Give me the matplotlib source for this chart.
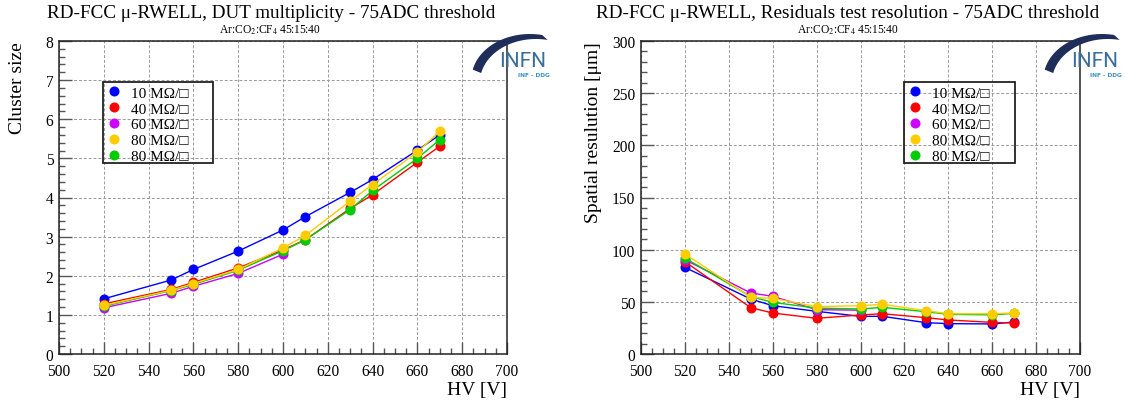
import numpy as np
import matplotlib.pyplot as plt
from matplotlib.patches import Polygon, Rectangle
from matplotlib.ticker import MultipleLocator

plt.rcParams['font.family'] = ['Liberation Serif', 'DejaVu Serif']
plt.rcParams['mathtext.fontset'] = 'stix'

labels = ['10 M\u03a9/\u25a1', '40 M\u03a9/\u25a1', '60 M\u03a9/\u25a1', '80 M\u03a9/\u25a1', '80 M\u03a9/\u25a1']
colors = ['#0000ff', '#ff0000', '#cc00ff', '#ffcc00', '#00cc00']

hv_full = [520, 550, 560, 580, 600, 610, 630, 640, 660, 670]
hv_60 = [520, 550, 560, 580, 600]

# cluster size (left)
cs_10 = [1.41, 1.89, 2.16, 2.63, 3.17, 3.51, 4.13, 4.46, 5.21, 5.60]
cs_40 = [1.28, 1.65, 1.83, 2.20, 2.66, 2.92, 3.72, 4.07, 4.90, 5.31]
cs_60 = [1.18, 1.55, 1.73, 2.06, 2.55]
cs_80a = [1.24, 1.63, 1.80, 2.16, 2.71, 3.03, 3.91, 4.33, 5.16, 5.69]
cs_80b = [1.22, 1.62, 1.78, 2.14, 2.64, 2.92, 3.69, 4.18, 5.00, 5.48]

# spatial resolution (right)
sr_10 = [83, 52.7, 46.3, 40.9, 36.1, 36.1, 30.0, 29.1, 28.8, 30.7]
sr_40 = [88.5, 44.4, 39.3, 34.2, 37.4, 38.6, 34.8, 32.6, 30.3, 29.7]
sr_60 = [90.4, 58.5, 55.3, 42.5, 42.0]
sr_80a = [95.9, 54.3, 53.4, 45.4, 46.3, 47.6, 41.5, 38.6, 38.6, 39.3]
sr_80b = [92.0, 55.0, 49.5, 44.0, 43.1, 44.7, 40.5, 38.0, 37.5, 39.0]

W, H = 1125, 402
fig = plt.figure(figsize=(W / 100, H / 100), dpi=100)

# overlay in pixel coordinates for logo and legend frames
over = fig.add_axes([0, 0, 1, 1], facecolor='none', zorder=10)
over.set_xlim(0, W)
over.set_ylim(H, 0)
over.axis('off')


def px_axes(x0, y0, x1, y1):
    return fig.add_axes([x0 / W, 1 - y1 / H, (x1 - x0) / W, (y1 - y0) / H])


def style(ax, ymax, ymaj, ymin):
    ax.set_xlim(500, 700)
    ax.set_ylim(0, ymax)
    ax.xaxis.set_major_locator(MultipleLocator(20))
    ax.xaxis.set_minor_locator(MultipleLocator(5))
    ax.yaxis.set_major_locator(MultipleLocator(ymaj))
    ax.yaxis.set_minor_locator(MultipleLocator(ymin))
    ax.tick_params(which='both', direction='in', top=False, right=False,
                   labelsize=11.2, color='#555555')
    ax.tick_params(which='major', length=9, width=1)
    ax.tick_params(which='minor', length=4.5, width=1)
    ax.tick_params(axis='x', pad=6.2)
    ax.tick_params(axis='y', pad=4)
    for s in ax.spines.values():
        s.set_color('#222222')
        s.set_linewidth(1.1)
    ax.grid(True, which='major', color='#999999', linestyle=(0, (3, 2)), linewidth=0.7)
    ax.set_axisbelow(True)


def draw(ax, series):
    handles = {}
    order = [0, 1, 2, 4, 3]
    for z, i in enumerate(order):
        x, y = series[i]
        h, = ax.plot(x, y, '-o', color=colors[i], lw=1, ms=6.2, mec=colors[i], zorder=3 + z)
        handles[i] = h
    return [handles[i] for i in range(5)]


def legend(ax, handles, ax_px, box):
    x0, y0, x1, y1 = box
    ax_x0, ax_y0, ax_w, ax_h = ax_px
    leg = ax.legend(handles, labels, loc='upper left',
                    bbox_to_anchor=((x0 + 4 - ax_x0) / ax_w, (ax_y0 + ax_h - y0 - 1) / ax_h),
                    frameon=False, fontsize=11, handlelength=0.5, handletextpad=0.85,
                    labelspacing=0.14, borderpad=0.2, borderaxespad=0)
    for lh in leg.get_lines():
        lh.set_linestyle('none')
    over.add_patch(Rectangle((x0, y0), x1 - x0, y1 - y0, fill=False, ec='#222222', lw=1.3))


def logo(dx):
    t = np.linspace(np.radians(78), np.radians(168), 60)
    outer = np.c_[530 + dx + 58.5 * np.cos(t), 80 - 45 * np.sin(t)]
    t2 = t[::-1]
    inner = np.c_[536 + dx + 56 * np.cos(t2), 83 - 43 * np.sin(t2)]
    over.add_patch(Polygon(np.vstack([outer, inner]), closed=True, color='#1f2d5a', lw=0))
    over.text(499 + dx, 67, 'INFN', fontsize=15, color='#3b6e9a', family='Roboto',
              ha='left', va='baseline')
    over.text(518 + dx, 77, 'INF - DDG', fontsize=4.2, color='#3e8fbf', family='DejaVu Sans',
              ha='left', va='baseline', fontweight='bold')


# left panel
ax1 = px_axes(59, 42, 507, 355)
style(ax1, 8, 1, 0.2)
h1 = draw(ax1, [(hv_full, cs_10), (hv_full, cs_40), (hv_60, cs_60), (hv_full, cs_80a), (hv_full, cs_80b)])
legend(ax1, h1, (59, 42, 448, 313), (103, 83, 213, 164))
fig.text(271 / W, 1 - 14 / H, 'RD-FCC \u03bc-RWELL, DUT multiplicity - 75ADC threshold',
         ha='center', va='center', fontsize=13.8)
fig.text(270 / W, 1 - 30 / H, 'Ar:CO$_2$:CF$_4$ 45:15:40', ha='center', va='center', fontsize=8.3)
fig.text(18 / W, 1 - 42 / H, 'Cluster size', rotation=90, ha='center', va='top', fontsize=14)
fig.text(507 / W, 1 - 391 / H, 'HV [V]', ha='right', va='center', fontsize=14)

# right panel
ax2 = px_axes(641, 42, 1080, 355)
style(ax2, 300, 50, 10)
h2 = draw(ax2, [(hv_full, sr_10), (hv_full, sr_40), (hv_60, sr_60), (hv_full, sr_80a), (hv_full, sr_80b)])
legend(ax2, h2, (641, 42, 439, 313), (904, 83, 1015, 164))
fig.text(848 / W, 1 - 14 / H, 'RD-FCC \u03bc-RWELL, Residuals test resolution - 75ADC threshold',
         ha='center', va='center', fontsize=13.8)
fig.text(848 / W, 1 - 30 / H, 'Ar:CO$_2$:CF$_4$ 45:15:40', ha='center', va='center', fontsize=8.3)
fig.text(594 / W, 1 - 42 / H, 'Spatial resulution [\u03bcm]', rotation=90, ha='center', va='top', fontsize=14)
fig.text(1080 / W, 1 - 391 / H, 'HV [V]', ha='right', va='center', fontsize=14)

logo(0)
logo(572)

fig.savefig('out.png', dpi=100)
